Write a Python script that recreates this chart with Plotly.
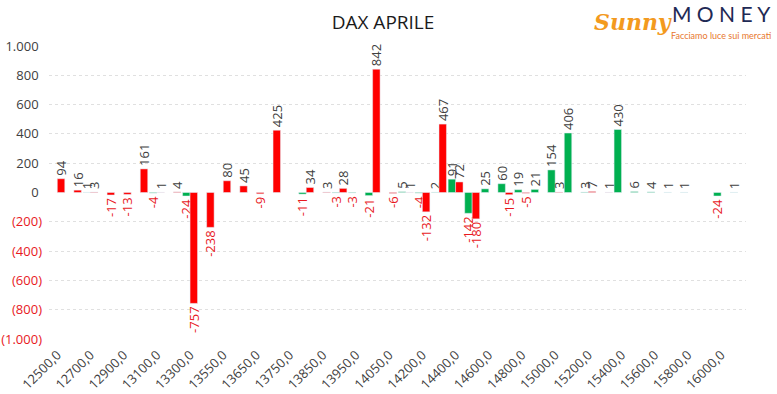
import plotly.graph_objects as go

# Categories (strike prices); only every other one is labelled on the axis
categories = [
    "12500,0", "12600,0", "12700,0", "12800,0", "12900,0", "13000,0", "13100,0", "13200,0",
    "13300,0", "13450,0", "13550,0", "13600,0", "13650,0", "13700,0", "13750,0", "13800,0",
    "13850,0", "13900,0", "13950,0", "14000,0", "14050,0", "14150,0", "14200,0", "14300,0",
    "14400,0", "14500,0", "14600,0", "14700,0", "14800,0", "14900,0", "15000,0", "15100,0",
    "15200,0", "15300,0", "15400,0", "15500,0", "15600,0", "15700,0", "15800,0", "15900,0",
    "16000,0", "16200,0",
]
tick_labels = categories[0:41:2]

green_values = [
    None, None, 1, None, None, None, -4, None, -24, None, None, None, None, None, None, -11,
    None, -3, -3, -21, None, 5, -4, 2, 91, -142, 25, 60, 19, 21, 154, 406,
    3, None, 430, 6, 4, 1, 1, None, -24, 1,
]
red_values = [
    94, 16, 3, -17, -13, 161, 1, 4, -757, -238, 80, 45, -9, 425, None, 34,
    3, 28, None, 842, -6, 1, -132, 467, 72, -180, None, -15, -5, None, 3, None,
    7, 1, None, None, None, None, None, None, None, None,
]

y_tickvals = [1000, 800, 600, 400, 200, 0, -200, -400, -600, -800, -1000]
y_ticktext = ["1.000", "800", "600", "400", "200", "0",
              "(200)", "(400)", "(600)", "(800)", "(1.000)"]

GREEN = "#00B050"
RED = "#FF0000"
NEG_TEXT = "#E8191E"
POS_TEXT = "#404040"


def labels(vals):
    return ["" if v is None else str(v) for v in vals]


def label_colors(vals):
    return [NEG_TEXT if (v is not None and v < 0) else POS_TEXT for v in vals]


fig = go.Figure()
for name, vals, col in [("Green", green_values, GREEN), ("Red", red_values, RED)]:
    fig.add_trace(go.Bar(
        x=categories, y=vals, name=name, marker_color=col,
        text=labels(vals), textposition="outside", textangle=-90,
        textfont=dict(family="Open Sans", size=13, color=label_colors(vals)),
        constraintext="none", cliponaxis=False, hoverinfo="x+y",
    ))

ytext = [
    (f'<span style="color:{NEG_TEXT}">{t}</span>' if v < 0 else t + "\u2008")
    for v, t in zip(y_tickvals, y_ticktext)
]

fig.update_layout(
    width=777, height=394,
    margin=dict(l=49, r=31, t=46, b=55, autoexpand=False),
    paper_bgcolor="white", plot_bgcolor="white",
    showlegend=False,
    barmode="group", bargap=0.1, bargroupgap=0,
    title=dict(text="DAX APRILE", x=383 / 777, xref="container", xanchor="center",
               y=1 - 22 / 394, yref="container", yanchor="middle",
               font=dict(family="Open Sans", size=19, color="#1a1a1a")),
    font=dict(family="Open Sans", color="#404040"),
)
fig.update_xaxes(
    type="category", categoryorder="array", categoryarray=categories,
    tickmode="array", tickvals=tick_labels, ticktext=tick_labels, automargin=False,
    tickangle=-45, tickfont=dict(family="Open Sans", size=13, color="#404040"),
    ticklabelstandoff=5,
    showgrid=False, showline=False, zeroline=False, ticks="",
)
fig.update_yaxes(
    range=[-1000, 1000], tickmode="array", tickvals=y_tickvals, ticktext=ytext,
    automargin=False,
    tickfont=dict(family="Open Sans", size=13, color="#404040"),
    showgrid=False, zeroline=False, showline=False, ticks="", ticklabelstandoff=6,
    minor=dict(tickmode="array", tickvals=[800, 600, 400, 200, -200, -400, -600, -800],
               showgrid=True, gridcolor="#E0E0E0", griddash="dot", gridwidth=1, ticks=""),
)

# Logo (text recreation)
fig.add_annotation(text="<b><i>Sunny</i></b>", xref="paper", yref="paper",
                   x=(633 - 49) / 697, y=1 + (46 - 22) / 293, showarrow=False,
                   xanchor="center", yanchor="middle",
                   font=dict(family="DejaVu Serif", size=22, color="#F39A1E"))
fig.add_annotation(text="M O N E Y", xref="paper", yref="paper",
                   x=(721 - 49) / 697, y=1 + (46 - 14) / 293, showarrow=False,
                   xanchor="center", yanchor="middle",
                   font=dict(family="Lato", size=21, color="#1F2A55"))
fig.add_annotation(text="Facciamo luce sui mercati", xref="paper", yref="paper",
                   x=(721 - 49) / 697, y=1 + (46 - 35) / 293, showarrow=False,
                   xanchor="center", yanchor="middle",
                   font=dict(family="Lato", size=9, color="#E8772E"))

fig.write_html("out.html", config={"displayModeBar": False},
               post_script="document.body.style.margin='0';document.body.style.overflow='hidden';")
